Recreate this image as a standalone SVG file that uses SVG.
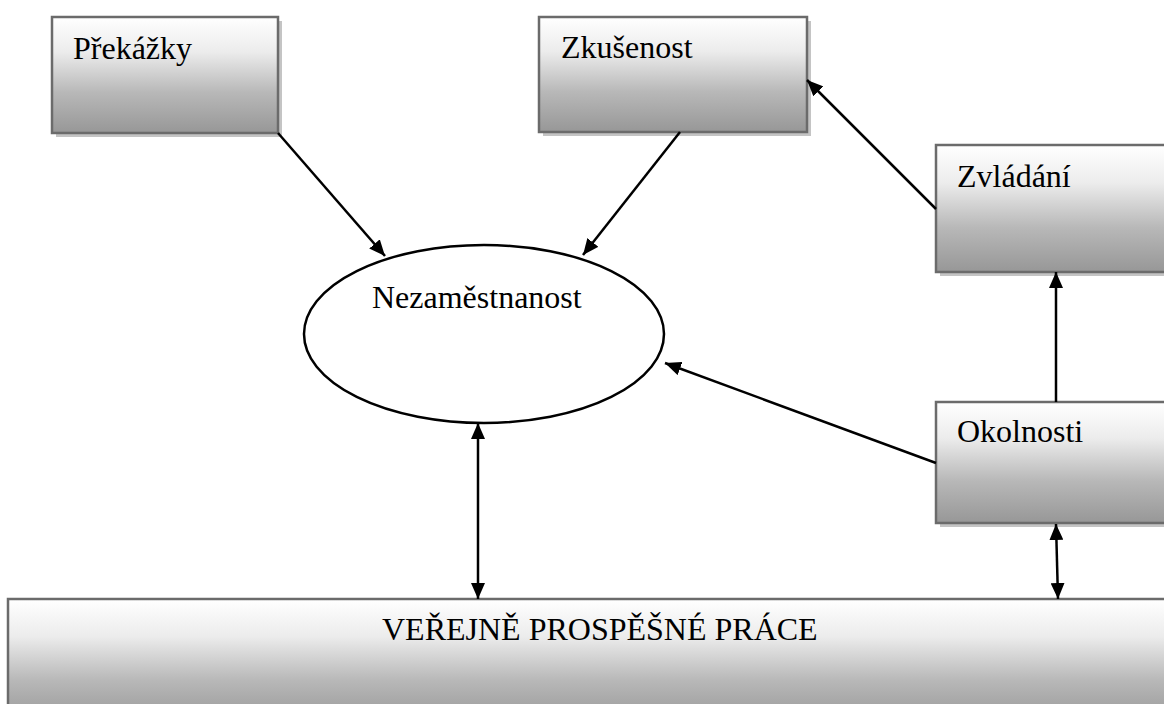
<svg xmlns="http://www.w3.org/2000/svg" width="1164" height="704" viewBox="0 0 1164 704">
<style>
.box{stroke:#6b6b6b;stroke-width:2.5;fill:url(#g)}
.shadow{fill:#c4c4c4}
.lbl{font-family:"Liberation Serif","Times New Roman",serif;font-size:32px;fill:#000}
.conn{stroke:#000;stroke-width:2.5;fill:none}
</style>
<defs>
<linearGradient id="g" x1="0" y1="0" x2="0" y2="1">
<stop offset="0" stop-color="#ffffff"/>
<stop offset="0.3" stop-color="#ececec"/>
<stop offset="0.65" stop-color="#b8b8b8"/>
<stop offset="1" stop-color="#979797"/>
</linearGradient>
<marker id="ah" viewBox="0 0 16 14" refX="16" refY="7" markerWidth="16" markerHeight="14" markerUnits="userSpaceOnUse" orient="auto-start-reverse">
<path d="M0,0 L16,7 L0,14 z" fill="#000"/>
</marker>
</defs>
<rect width="1164" height="704" fill="#fff"/>

<g id="prekazky">
<rect class="shadow" x="56" y="21" width="226" height="116"/>
<rect class="box" x="52" y="17" width="226" height="116"/>
<text class="lbl" x="73" y="59">Překážky</text>
</g>

<g id="zkusenost">
<rect class="shadow" x="543" y="21" width="268" height="115"/>
<rect class="box" x="539" y="17" width="268" height="115"/>
<text class="lbl" x="561" y="58">Zkušenost</text>
</g>

<g id="zvladani">
<rect class="shadow" x="940" y="149" width="240" height="127"/>
<rect class="box" x="936" y="145" width="240" height="127"/>
<text class="lbl" x="957" y="187">Zvládání</text>
</g>

<g id="okolnosti">
<rect class="shadow" x="940" y="406" width="240" height="121"/>
<rect class="box" x="936" y="402" width="240" height="121"/>
<text class="lbl" x="957" y="442">Okolnosti</text>
</g>

<g id="nezamestnanost">
<ellipse cx="484" cy="334" rx="180" ry="89" fill="#fff" stroke="#000" stroke-width="2.5"/>
<text class="lbl" x="372" y="308">Nezaměstnanost</text>
</g>

<g id="vpp">
<rect class="box" x="8" y="599" width="1170" height="125"/>
<text class="lbl" x="382" y="640">VEŘEJNĚ PROSPĚŠNÉ PRÁCE</text>
</g>

<g id="connectors">
<line class="conn" x1="278" y1="133" x2="385" y2="256" marker-end="url(#ah)"/>
<line class="conn" x1="680" y1="132" x2="583" y2="255" marker-end="url(#ah)"/>
<line class="conn" x1="936" y1="209" x2="807" y2="80" marker-end="url(#ah)"/>
<line class="conn" x1="1056" y1="402" x2="1056" y2="272" marker-end="url(#ah)"/>
<line class="conn" x1="936" y1="463" x2="665" y2="363" marker-end="url(#ah)"/>
<line class="conn" x1="478" y1="423" x2="478" y2="599" marker-start="url(#ah)" marker-end="url(#ah)"/>
<line class="conn" x1="1056" y1="524" x2="1058" y2="599" marker-start="url(#ah)" marker-end="url(#ah)"/>
</g>
</svg>
